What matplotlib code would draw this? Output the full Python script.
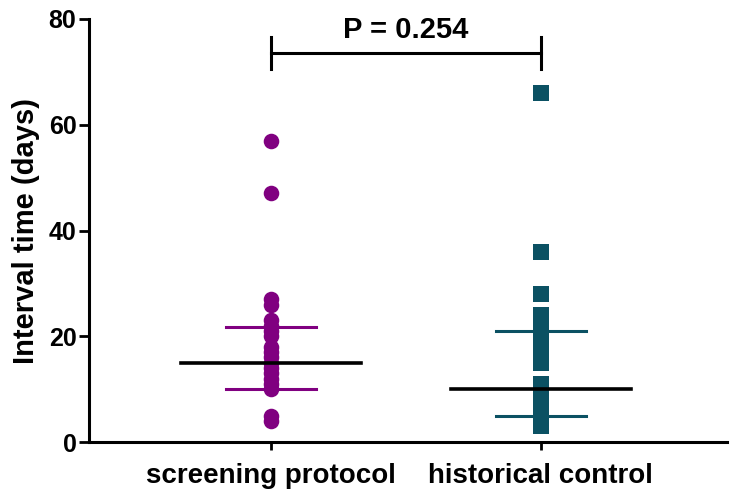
import matplotlib.pyplot as plt
import numpy as np

plt.rcParams['font.family'] = ['Liberation Sans', 'DejaVu Sans']
plt.rcParams['font.weight'] = 'bold'

groups = ['screening protocol', 'historical control']
screening = [57, 47, 27, 26, 23, 22, 21, 20, 18, 17, 16, 15, 14, 13, 12, 11, 10, 5, 4]
historical = [66, 36, 28, 24, 23, 22, 21, 20, 19, 18, 17, 16, 15, 11, 10, 7, 6, 5, 4, 3]
medians = [15, 10]
q1 = [10, 5]
q3 = [21.7, 21]
p_text = 'P = 0.254'

purple = '#800080'
teal = '#0b5163'

fig = plt.figure(figsize=(7.35, 4.93), dpi=100)
ax = fig.add_axes([0.121, 0.1034, 0.868, 0.8581])

ax.plot(np.zeros(len(screening)), screening, 'o', color=purple, markersize=11.2,
        markeredgewidth=0, zorder=3)
ax.plot(np.ones(len(historical)), historical, 's', color=teal, markersize=11.5,
        markeredgewidth=0, zorder=3)

cols = [purple, teal]
for i in range(2):
    ax.plot([i - 0.333, i + 0.333], [medians[i], medians[i]], color='black', lw=2.6, zorder=4)
    for v in (q1[i], q3[i]):
        ax.plot([i - 0.167, i + 0.167], [v, v], color=cols[i], lw=2.2, zorder=4)

# significance bracket
ax.plot([0, 1], [73.5, 73.5], color='black', lw=2.2, clip_on=False)
ax.plot([0, 0], [70.5, 76.5], color='black', lw=2.2, clip_on=False)
ax.plot([1, 1], [70.5, 76.5], color='black', lw=2.2, clip_on=False)
ax.text(0.5, 78, p_text, ha='center', va='center', fontsize=21, fontweight='bold')

ax.set_xlim(-0.674, 1.689)
ax.set_ylim(0, 80)
ax.set_xticks([0, 1])
ax.set_xticklabels(groups, fontsize=20, fontweight='bold')
ax.set_yticks([0, 20, 40, 60, 80])
ax.tick_params(axis='y', labelsize=18, width=2, length=7, pad=2)
ax.tick_params(axis='x', width=2, length=6, pad=9)
ax.set_ylabel('Interval time (days)', fontsize=21, fontweight='bold', labelpad=6)

for s in ['top', 'right']:
    ax.spines[s].set_visible(False)
for s in ['left', 'bottom']:
    ax.spines[s].set_linewidth(2.2)

fig.savefig('out.png', dpi=100)
